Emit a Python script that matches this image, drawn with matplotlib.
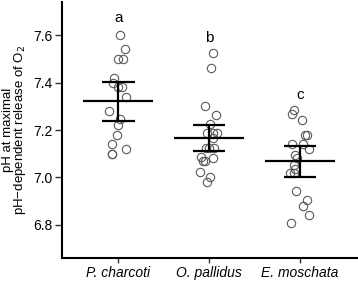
import matplotlib.pyplot as plt
import numpy as np

plt.rcParams['font.family'] = ['Liberation Sans', 'DejaVu Sans']

species = ['P. charcoti', 'O. pallidus', 'E. moschata']
letters = ['a', 'b', 'c']
letter_y = [7.672, 7.589, 7.347]

# individual values
charcoti = [7.60, 7.54, 7.50, 7.50, 7.42, 7.40, 7.38, 7.38, 7.34, 7.28,
            7.245, 7.22, 7.18, 7.14, 7.12, 7.10, 7.10]
charcoti_dx = [0.02, 0.07, 0.0, 0.05, -0.05, -0.06, 0.0, 0.04, 0.09, -0.1,
               0.02, 0.0, -0.01, -0.07, 0.08, -0.07, -0.065]
pallidus = [7.523, 7.46, 7.302, 7.263, 7.224, 7.186, 7.186, 7.186, 7.166,
            7.124, 7.124, 7.124, 7.088, 7.07, 7.07, 7.082, 7.024, 7.0, 6.982]
pallidus_dx = [0.04, 0.02, -0.05, 0.08, 0.015, -0.02, 0.045, 0.09, 0.045,
               -0.03, 0.0, 0.05, -0.09, -0.07, -0.04, 0.045, -0.1, 0.015, -0.02]
moschata = [7.284, 7.266, 7.242, 7.18, 7.18, 7.143, 7.143, 7.119, 7.095,
            7.081, 7.053, 7.035, 7.02, 7.018, 6.944, 6.905, 6.88, 6.842, 6.807]
moschata_dx = [-0.06, -0.09, 0.02, 0.06, 0.08, -0.09, 0.03, 0.095, -0.05,
               -0.035, -0.06, -0.05, -0.11, -0.07, -0.04, 0.08, 0.03, 0.095, -0.1]

means = [7.322, 7.165, 7.068]
errs = [0.082, 0.055, 0.066]

fig = plt.figure(figsize=(3.58, 2.84), dpi=100)
ax = fig.add_axes([0.173, 0.0915, 0.827, 0.9015])

groups = [(charcoti, charcoti_dx), (pallidus, pallidus_dx), (moschata, moschata_dx)]
for i, (vals, dx) in enumerate(groups):
    x = i + 1 + np.array(dx)
    ax.plot(x, vals, 'o', ms=6, mfc='none', mec='#5a5a5a', mew=0.8)

pos = np.arange(1, 4)
ax.hlines(means, pos - 0.385, pos + 0.385, color='black', lw=1.6)
ax.errorbar(pos, means, yerr=errs, fmt='none', ecolor='black', elinewidth=1.6,
            capsize=0)
ax.hlines(np.array(means) + np.array(errs), pos - 0.18, pos + 0.18, color='black', lw=1.6)
ax.hlines(np.array(means) - np.array(errs), pos - 0.18, pos + 0.18, color='black', lw=1.6)

for i in range(3):
    ax.text(i + 1, letter_y[i], letters[i], ha='center', va='center', fontsize=11)

ax.set_xlim(0.38, 3.64)
ax.set_ylim(6.66, 7.74)
ax.set_yticks([6.8, 7.0, 7.2, 7.4, 7.6])
ax.set_yticklabels(['6.8', '7.0', '7.2', '7.4', '7.6'])
ax.set_xticks(pos)
ax.set_xticklabels(species, style='italic')
ax.tick_params(labelsize=10, width=1, color='#333333')
ax.tick_params(axis='y', length=5, pad=2)
ax.tick_params(axis='x', length=3.5, pad=2)
for side in ['top', 'right']:
    ax.spines[side].set_visible(False)
for side in ['left', 'bottom']:
    ax.spines[side].set_linewidth(1.5)

ax.set_ylabel('pH at maximal\npH\u2212dependent release of O$_2$', fontsize=9.5,
              linespacing=0.85)
ax.yaxis.set_label_coords(-0.115, 0.5)

fig.savefig('out.png', dpi=100)
